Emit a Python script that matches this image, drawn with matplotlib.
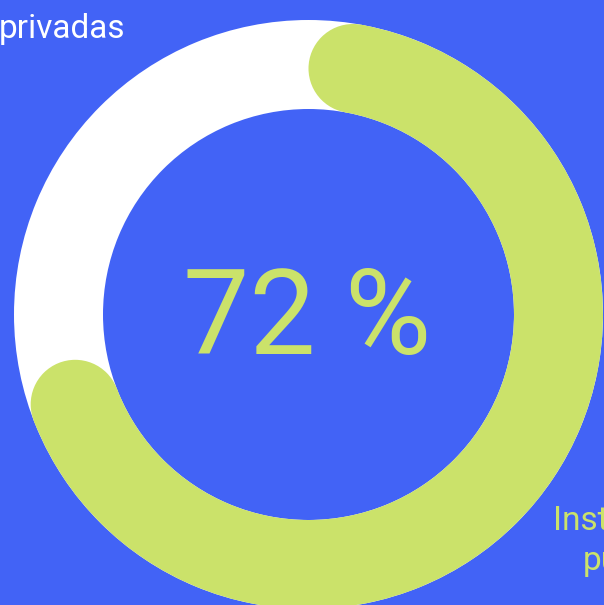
import numpy as np
import matplotlib.pyplot as plt
from matplotlib.patches import Wedge, Circle

# Data
labels = ['Instituciones públicas', 'Instituciones privadas']
values = [72, 28]
center_text = '72 %'

BLUE = '#4263f6'
GREEN = '#cbe26a'
WHITE = '#ffffff'

W, H = 604, 605
CX, CY = 308.5, H - 314.5
R_OUT = 294.5
RING = 89.0


def clock_to_mpl(a):
    """clockwise-from-top degrees -> matplotlib degrees"""
    return 90.0 - a


fig = plt.figure(figsize=(W / 100, H / 100), dpi=100, facecolor=BLUE)
ax = fig.add_axes([0, 0, 1, 1])
ax.set_xlim(0, W)
ax.set_ylim(0, H)
ax.set_facecolor(BLUE)
ax.axis('off')

# background ring (white)
ax.add_patch(Wedge((CX, CY), R_OUT, 0, 360, width=RING, facecolor=WHITE,
                   edgecolor='none'))

# green arc with round caps kept inside the value angle
total = sum(values)
span = 360.0 * values[0] / total
r_mid = R_OUT - RING / 2
cap = np.degrees(np.arcsin((RING / 2) / r_mid))
a0, a1 = cap, span - cap
ax.add_patch(Wedge((CX, CY), R_OUT, clock_to_mpl(a1), clock_to_mpl(a0),
                   width=RING, facecolor=GREEN, edgecolor='none'))
for a in (a0, a1):
    t = np.radians(clock_to_mpl(a))
    ax.add_patch(Circle((CX + r_mid * np.cos(t), CY + r_mid * np.sin(t)),
                        RING / 2, facecolor=GREEN, edgecolor='none'))

# center value
ax.text(307.5, H - 354, center_text, ha='center', va='baseline',
        fontsize=85, color=GREEN, family='Roboto')

# labels (partly outside the canvas)
ax.text(125, H - 38, labels[1].split()[1], ha='right', va='baseline',
        fontsize=24, color=WHITE, family='Roboto')
ax.text(553, H - 530, labels[0].split()[0], ha='left', va='baseline',
        fontsize=24, color=GREEN, family='Roboto')
ax.text(583, H - 570, labels[0].split()[1], ha='left', va='baseline',
        fontsize=24, color=GREEN, family='Roboto')

fig.savefig('out.png', dpi=100, facecolor=BLUE)
